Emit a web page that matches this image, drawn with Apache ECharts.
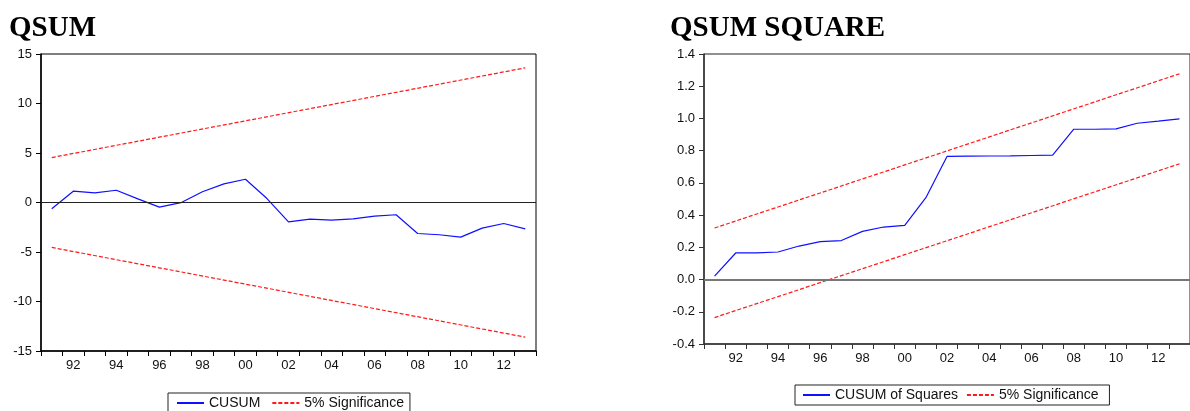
<!DOCTYPE html>
<html>
<head>
<meta charset="utf-8">
<script src="https://cdn.jsdelivr.net/npm/echarts@6/dist/echarts.min.js"></script>
<style>
html,body{margin:0;padding:0;background:#fff;}
#c{width:1190px;height:411px;}
</style>
</head>
<body>
<div id="c"></div>
<script>
// Categories (years)
const years = ['1991','1992','1993','1994','1995','1996','1997','1998','1999','2000','2001','2002',
               '2003','2004','2005','2006','2007','2008','2009','2010','2011','2012','2013'];

// Left panel: CUSUM
const cusum = [-0.64, 1.14, 0.98, 1.24, 0.37, -0.47, -0.02, 1.08, 1.88, 2.35, 0.40, -1.95,
               -1.68, -1.78, -1.65, -1.38, -1.24, -3.13, -3.26, -3.50, -2.59, -2.12, -2.66];
const cusumUpperEnds = [4.54, 13.6];   // straight 5% bound: first year, last year
const cusumLowerEnds = [-4.54, -13.6];

// Right panel: CUSUM of Squares
const cusumSq = [0.021, 0.165, 0.166, 0.171, 0.208, 0.235, 0.242, 0.299, 0.326, 0.336, 0.508, 0.764,
                 0.766, 0.767, 0.768, 0.770, 0.772, 0.933, 0.933, 0.935, 0.970, 0.983, 0.997];
const sqUpperEnds = [0.32, 1.277];
const sqLowerEnds = [-0.236, 0.718];

// Tick settings
const leftTicks = {min: -15, max: 15, interval: 5};
const rightTicks = {min: -0.4, max: 1.4, interval: 0.2};

const ends = (arr) => [[years[0], arr[0]], [years[years.length - 1], arr[1]]];

const blue = '#1010ff';
const red = '#ff1a1a';
const tickFont = {fontFamily: 'Liberation Sans, Arial, sans-serif', fontSize: 13, color: '#111'};

function xAxis(gi, lineColor) {
  return {
    type: 'category', gridIndex: gi, data: years, boundaryGap: true,
    axisLine: {show: true, onZero: false, lineStyle: {color: lineColor, width: 1.5}},
    axisTick: {show: true, interval: 0, length: 5, lineStyle: {color: lineColor, width: 1}},
    axisLabel: Object.assign({
      interval: (i) => i % 2 === 1,
      margin: 8,
      formatter: (v) => v.slice(2)
    }, tickFont),
    splitLine: {show: false}
  };
}
function yAxis(gi, t, lineColor, dec) {
  return {
    type: 'value', gridIndex: gi, min: t.min, max: t.max, interval: t.interval,
    axisLine: {show: true, onZero: false, lineStyle: {color: lineColor, width: 1.5}},
    axisTick: {show: true, length: 5, lineStyle: {color: lineColor, width: 1}},
    axisLabel: Object.assign({
      margin: 9,
      formatter: (v) => dec ? Number(v).toFixed(1) : String(Math.round(v))
    }, tickFont),
    splitLine: {show: false}
  };
}

const legendText = {fontFamily: 'Liberation Sans, Arial, sans-serif', fontSize: 14, color: '#111'};

const chart = echarts.init(document.getElementById('c'), null, {renderer: 'canvas'});
chart.setOption({
  backgroundColor: '#fff',
  animation: false,
  title: [
    {text: 'QSUM', left: 9, top: 14, padding: 0,
     textStyle: {fontFamily: 'Liberation Serif, Times New Roman, serif', fontWeight: 'bold', fontSize: 29, color: '#000'}},
    {text: 'QSUM SQUARE', left: 670, top: 14, padding: 0,
     textStyle: {fontFamily: 'Liberation Serif, Times New Roman, serif', fontWeight: 'bold', fontSize: 29, color: '#000'}}
  ],
  legend: [
    {data: ['CUSUM', '5% Significance'], left: 168, top: 393, orient: 'horizontal',
     itemWidth: 27, itemHeight: 14, itemGap: 11, padding: [3, 6, 3, 8],
     itemStyle: {opacity: 0},
     borderColor: '#222', borderWidth: 1, textStyle: legendText, selectedMode: false},
    {data: ['CUSUM of Squares', '5% Significance '], left: 795, top: 385, orient: 'horizontal',
     itemWidth: 27, itemHeight: 14, itemGap: 8, padding: [3, 7, 3, 7],
     itemStyle: {opacity: 0},
     borderColor: '#222', borderWidth: 1, textStyle: legendText, selectedMode: false}
  ],
  grid: [
    {left: 41, top: 54, width: 495, height: 297, show: true, borderColor: '#000', borderWidth: 1, backgroundColor: 'transparent'},
    {left: 704, top: 54, width: 494.5, height: 290, show: true, borderColor: '#222', borderWidth: 1, backgroundColor: 'transparent'}
  ],
  xAxis: [xAxis(0, '#000'), xAxis(1, '#333')],
  yAxis: [yAxis(0, leftTicks, '#000', false), yAxis(1, rightTicks, '#333', true)],
  series: [
    {name: 'CUSUM', type: 'line', xAxisIndex: 0, yAxisIndex: 0, data: cusum,
     symbol: 'none', lineStyle: {color: blue, width: 1.2}, itemStyle: {color: blue},
     markLine: {silent: true, symbol: 'none', label: {show: false},
       lineStyle: {color: '#222', width: 1, type: 'solid'}, data: [{yAxis: 0}]}},
    {name: '5% Significance', type: 'line', xAxisIndex: 0, yAxisIndex: 0, data: ends(cusumUpperEnds),
     symbol: 'none', lineStyle: {color: red, width: 1.2, type: [4, 2]}, itemStyle: {color: red}},
    {name: '5% Significance', type: 'line', xAxisIndex: 0, yAxisIndex: 0, data: ends(cusumLowerEnds),
     symbol: 'none', lineStyle: {color: red, width: 1.2, type: [4, 2]}, itemStyle: {color: red}},
    {name: 'CUSUM of Squares', type: 'line', xAxisIndex: 1, yAxisIndex: 1, data: cusumSq,
     symbol: 'none', lineStyle: {color: blue, width: 1.2}, itemStyle: {color: blue},
     markLine: {silent: true, symbol: 'none', label: {show: false},
       lineStyle: {color: '#777', width: 2, type: 'solid'}, data: [{yAxis: 0}]}},
    {name: '5% Significance ', type: 'line', xAxisIndex: 1, yAxisIndex: 1, data: ends(sqUpperEnds),
     symbol: 'none', lineStyle: {color: red, width: 1.2, type: [4, 2]}, itemStyle: {color: red}},
    {name: '5% Significance ', type: 'line', xAxisIndex: 1, yAxisIndex: 1, data: ends(sqLowerEnds),
     symbol: 'none', lineStyle: {color: red, width: 1.2, type: [4, 2]}, itemStyle: {color: red}}
  ]
});
</script>
</body>
</html>
